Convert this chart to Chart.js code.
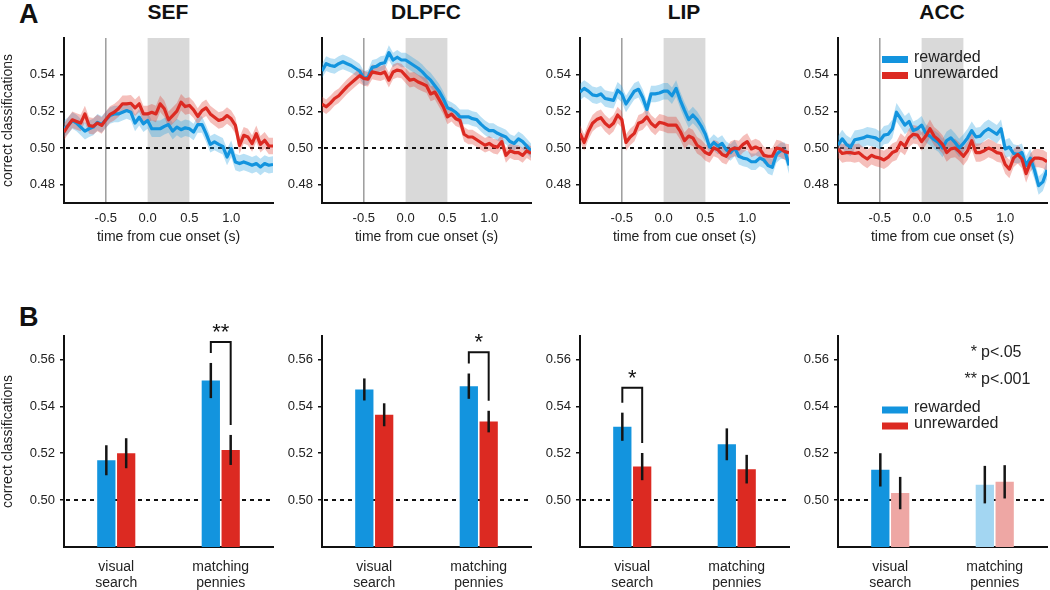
<!DOCTYPE html>
<html>
<head>
<meta charset="utf-8">
<script src="https://cdn.jsdelivr.net/npm/chart.js@4.4.1/dist/chart.umd.min.js"></script>
<style>
body { margin:0; background:#fff; width:1050px; height:590px; overflow:hidden; position:relative;
       font-family:'Liberation Sans', Arial, sans-serif; color:#111; }
canvas { position:absolute; }
.ttl { position:absolute; width:160px; text-align:center; font-weight:bold; font-size:21px; line-height:24px; top:0; }
.lbl { position:absolute; font-weight:bold; font-size:27px; line-height:28px; left:19px; }
</style>
</head>
<body>
<div class="lbl" style="top:0">A</div>
<div class="lbl" style="top:303px">B</div>
<div id="titles"></div>
<canvas id="a0" width="280" height="260" style="left:0;top:0"></canvas>
<canvas id="a1" width="280" height="260" style="left:258px;top:0"></canvas>
<canvas id="a2" width="280" height="260" style="left:516px;top:0"></canvas>
<canvas id="a3" width="280" height="260" style="left:774px;top:0"></canvas>
<canvas id="b0" width="280" height="290" style="left:0;top:300px"></canvas>
<canvas id="b1" width="280" height="290" style="left:258px;top:300px"></canvas>
<canvas id="b2" width="280" height="290" style="left:516px;top:300px"></canvas>
<canvas id="b3" width="280" height="290" style="left:774px;top:300px"></canvas>
<script>
/* DATA */
const regions = ['SEF', 'DLPFC', 'LIP', 'ACC'];
const seriesNames = ['rewarded', 'unrewarded'];

const timeS = [-1.00,-0.95,-0.90,-0.85,-0.80,-0.75,-0.70,-0.65,-0.60,-0.55,-0.50,-0.45,-0.40,-0.35,-0.30,-0.25,-0.20,-0.15,-0.10,-0.05,
               0.00,0.05,0.10,0.15,0.20,0.25,0.30,0.35,0.40,0.45,0.50,0.55,0.60,0.65,0.70,0.75,0.80,0.85,0.90,0.95,
               1.00,1.05,1.10,1.15,1.20,1.25,1.30,1.35,1.40,1.45,1.50];
const timeTicks = [-0.5, 0, 0.5, 1.0];
const timeTickLabels = ['-0.5', '0.0', '0.5', '1.0'];
const cueShade = [0, 0.5];
const cueMarker = -0.5;
const chanceLevel = 0.5;
const ticksA = [0.48, 0.50, 0.52, 0.54];
const ticksB = [0.50, 0.52, 0.54, 0.56];

const sefRew = [0.5105,0.5123,0.515,0.5136,0.5114,0.5092,0.5105,0.5114,0.514,0.5128,0.5154,0.5177,0.5186,0.5186,0.5195,0.5204,0.5195,0.5136,0.5168,0.5132,
                0.515,0.5105,0.5105,0.5105,0.5118,0.5128,0.5092,0.5114,0.51,0.511,0.5105,0.5087,0.5128,0.5128,0.5078,0.502,0.5033,0.502,0.5009,0.4951,
                0.4996,0.4924,0.4915,0.4924,0.4915,0.4906,0.4915,0.4897,0.4915,0.4906,0.491];
const sefUnrew = [0.5087,0.5123,0.5154,0.5145,0.5136,0.5186,0.5123,0.5118,0.5136,0.5123,0.5154,0.5183,0.5195,0.5214,0.5241,0.5241,0.5244,0.5219,0.5241,0.5186,
                  0.5186,0.5195,0.5186,0.5241,0.5214,0.5154,0.5177,0.5201,0.525,0.5226,0.5232,0.5208,0.5172,0.5204,0.5219,0.5186,0.5168,0.515,0.5157,0.5177,
                  0.5159,0.5123,0.5014,0.5069,0.506,0.5024,0.5078,0.502,0.5042,0.5011,0.5011];
const dlpfcRew = [0.542,0.546,0.545,0.5445,0.546,0.547,0.546,0.545,0.5435,0.542,0.538,0.5385,0.544,0.5445,0.546,0.5465,0.552,0.548,0.5495,0.548,
                  0.548,0.5465,0.545,0.5435,0.5415,0.539,0.537,0.534,0.531,0.527,0.522,0.521,0.5195,0.517,0.517,0.517,0.516,0.5155,0.513,0.511,
                  0.5095,0.5095,0.508,0.507,0.506,0.5035,0.5025,0.505,0.5035,0.501,0.4985];
const dlpfcUnrew = [0.524,0.5225,0.5245,0.527,0.5285,0.531,0.5335,0.5355,0.5375,0.5395,0.538,0.5375,0.5415,0.541,0.5405,0.5415,0.537,0.5415,0.5425,0.542,
                    0.5395,0.537,0.5375,0.536,0.535,0.534,0.5295,0.5305,0.5265,0.5225,0.517,0.5185,0.516,0.515,0.5075,0.506,0.506,0.5045,0.503,0.5015,
                    0.5025,0.501,0.5005,0.5035,0.496,0.4985,0.4975,0.4975,0.496,0.4985,0.497];
const lipRew = [0.5305,0.5325,0.531,0.529,0.5285,0.5295,0.527,0.5265,0.526,0.5315,0.5295,0.524,0.5275,0.531,0.532,0.5275,0.521,0.5295,0.5295,0.53,
                0.531,0.531,0.5285,0.5325,0.526,0.5205,0.5155,0.518,0.5155,0.512,0.5075,0.5005,0.503,0.501,0.5025,0.499,0.4975,0.5,0.4955,0.4945,
                0.494,0.4925,0.4925,0.4945,0.4935,0.4905,0.4895,0.4965,0.4985,0.4985,0.4905];
const lipUnrew = [0.508,0.503,0.509,0.5135,0.5155,0.5165,0.5135,0.5115,0.5135,0.518,0.5155,0.503,0.506,0.508,0.5135,0.5145,0.517,0.5135,0.5115,0.514,
                  0.5135,0.5125,0.5125,0.5125,0.509,0.504,0.5065,0.5055,0.5015,0.5,0.4975,0.4965,0.5,0.499,0.4965,0.4955,0.499,0.5,0.4995,0.502,
                  0.5035,0.4995,0.5005,0.4995,0.496,0.4955,0.4955,0.5,0.4995,0.498,0.4975];
const accRew = [0.5015,0.505,0.502,0.5005,0.5045,0.505,0.5055,0.5065,0.506,0.5055,0.504,0.507,0.5075,0.5105,0.5195,0.516,0.5125,0.5145,0.5095,0.5105,
                0.5125,0.508,0.5065,0.5045,0.503,0.5,0.504,0.5055,0.503,0.5,0.5025,0.5055,0.5095,0.506,0.5065,0.509,0.5105,0.509,0.5075,0.5105,
                0.4995,0.5005,0.497,0.4965,0.4975,0.4905,0.4945,0.488,0.4795,0.4815,0.488];
const accUnrew = [0.4995,0.497,0.4975,0.4975,0.497,0.4975,0.4955,0.494,0.496,0.495,0.4945,0.4935,0.495,0.4975,0.4985,0.503,0.501,0.5055,0.5075,0.507,
                  0.5035,0.5065,0.5105,0.5065,0.5045,0.502,0.4975,0.4995,0.5,0.498,0.4955,0.4985,0.504,0.4975,0.4975,0.4985,0.5,0.499,0.4975,0.497,
                  0.491,0.4885,0.4945,0.4965,0.494,0.486,0.492,0.4945,0.4945,0.494,0.4925];
const lineRew = [sefRew, dlpfcRew, lipRew, accRew];
const lineUnrew = [sefUnrew, dlpfcUnrew, lipUnrew, accUnrew];
const bandSem = [0.0045, 0.004, 0.0045, 0.005];

const taskLabels = [['visual', 'search'], ['matching', 'pennies']];
const barRew   = [[0.517, 0.551], [0.5472, 0.5486], [0.5313, 0.5238], [0.5129, 0.5066]];
const barUnrew = [[0.520, 0.5214], [0.5364, 0.5335], [0.5143, 0.5132], [0.503, 0.5078]];
const errRew   = [[0.0064, 0.0075], [0.0047, 0.0054], [0.006, 0.0068], [0.0071, 0.008]];
const errUnrew = [[0.0064, 0.0064], [0.0049, 0.0046], [0.0058, 0.0061], [0.0069, 0.0071]];
const sigTask  = [1, 1, 0, -1];
const sigStars = ['**', '*', '*', ''];
const sigTop   = [0.5674, 0.5631, 0.5479, null];
const pNotes   = [['*', 'p<.05'], ['**', 'p<.001']];

/* STYLE */
const FONT = "'Liberation Sans', Arial, sans-serif";
const BLUE = '#1394de', RED = '#dc2a22';
const BLUE_LT = '#a3d6f2', RED_LT = '#eea7a4';
const BLUE_BAND = 'rgba(40,160,225,0.33)', RED_BAND = 'rgba(225,60,50,0.33)';
Chart.defaults.font.family = FONT;
Chart.defaults.color = '#222';
Chart.defaults.animation = false;
Chart.defaults.plugins.legend.display = false;
Chart.defaults.plugins.tooltip.enabled = false;

/* titles */
const titles = document.getElementById('titles');
regions.forEach((r, i) => {
    const d = document.createElement('div');
    d.className = 'ttl';
    d.style.left = (i * 258 + 64 + 104 - 80) + 'px';
    d.textContent = r;
    titles.appendChild(d);
});

function chanceLine(ctx, a, y) {
    const yy = Math.round(y.getPixelForValue(chanceLevel));
    ctx.save();
    ctx.strokeStyle = '#111'; ctx.lineWidth = 2; ctx.setLineDash([4, 4]);
    ctx.beginPath(); ctx.moveTo(a.left + 2, yy); ctx.lineTo(a.right, yy); ctx.stroke();
    ctx.restore();
}

function drawKey(ctx, x, y, colors) {
    ctx.save();
    ctx.font = '16px ' + FONT;
    ctx.textBaseline = 'middle';
    seriesNames.forEach((s, k) => {
        const cy = y + k * 16;
        ctx.fillStyle = colors[k];
        ctx.fillRect(x, cy - 3, 26, 7);
        ctx.fillStyle = '#222';
        ctx.fillText(s, x + 32, cy - 1.5);
    });
    ctx.restore();
}

const cuePlugin = {
    id: 'cue',
    beforeDatasetsDraw(chart) {
        const {ctx, chartArea: a, scales: {x, y}} = chart;
        const x0 = x.getPixelForValue(cueShade[0]), x1 = x.getPixelForValue(cueShade[1]);
        ctx.save();
        ctx.fillStyle = '#d9d9d9';
        ctx.fillRect(x0, a.top, x1 - x0, a.bottom - a.top - 1);
        const xm = x.getPixelForValue(cueMarker);
        ctx.strokeStyle = '#9c9c9c'; ctx.lineWidth = 1.5;
        ctx.beginPath(); ctx.moveTo(xm, a.top); ctx.lineTo(xm, a.bottom - 1); ctx.stroke();
        ctx.restore();
        chanceLine(ctx, a, y);
    },
    afterDatasetsDraw(chart) {
        if (chart.options.plugins.cue.key) drawKey(chart.ctx, chart.chartArea.left + 44, 59, [BLUE, RED]);
    }
};

/* PANEL A: time courses */
regions.forEach((r, i) => {
    const sem = bandSem[i];
    const base = {pointRadius: 0, borderWidth: 0, tension: 0};
    new Chart(document.getElementById('a' + i), {
        type: 'line',
        data: {
            labels: timeS,
            datasets: [
                {...base, data: lineRew[i].map(v => v - sem), fill: false, order: 6},
                {...base, data: lineRew[i].map(v => v + sem), fill: '-1', backgroundColor: BLUE_BAND, order: 5},
                {...base, data: lineUnrew[i].map(v => v - sem), fill: false, order: 4},
                {...base, data: lineUnrew[i].map(v => v + sem), fill: '-1', backgroundColor: RED_BAND, order: 3},
                {...base, label: seriesNames[0], data: lineRew[i], borderColor: BLUE, borderWidth: 3.2, borderJoinStyle: 'round', fill: false, order: 2},
                {...base, label: seriesNames[1], data: lineUnrew[i], borderColor: RED, borderWidth: 3.2, borderJoinStyle: 'round', fill: false, order: 1}
            ]
        },
        options: {
            responsive: false,
            layout: {padding: {top: 38, right: 7, left: 0, bottom: 0}},
            plugins: {cue: {key: i === 3}},
            scales: {
                x: {
                    type: 'linear', min: -1, max: 1.5,
                    afterFit: s => { s.height = 57; },
                    afterBuildTicks: s => { s.ticks = timeTicks.map(v => ({value: v})); },
                    ticks: {callback: (v, k) => timeTickLabels[k], font: {size: 13}, padding: 8, maxRotation: 0, autoSkip: false},
                    grid: {display: false, drawTicks: false},
                    border: {display: true, color: '#111', width: 2},
                    title: {display: true, text: 'time from cue onset (s)', font: {size: 14}, padding: {top: 0, bottom: 14}}
                },
                y: {
                    min: 0.47, max: 0.56,
                    afterFit: s => { s.width = 64; },
                    afterBuildTicks: s => { s.ticks = ticksA.map(v => ({value: v})); },
                    ticks: {callback: (v, k) => ticksA[k].toFixed(2), font: {size: 13}, padding: 5},
                    grid: {drawOnChartArea: false, drawTicks: true, tickLength: 4, color: '#111', lineWidth: 1.5},
                    border: {color: '#111', width: 2},
                    title: {display: i === 0, text: 'correct classifications', font: {size: 14}, padding: {top: 0, bottom: 0}}
                }
            }
        },
        plugins: [cuePlugin]
    });
});

/* PANEL B: bars */
const barPlugin = {
    id: 'bars',
    beforeDatasetsDraw(chart) {
        chanceLine(chart.ctx, chart.chartArea, chart.scales.y);
    },
    afterDatasetsDraw(chart) {
        const {ctx, chartArea: a, scales: {y}} = chart;
        const i = chart.options.plugins.bars.panel;
        const vals = [barRew[i], barUnrew[i]], errs = [errRew[i], errUnrew[i]];
        ctx.save();
        ctx.strokeStyle = '#151515';
        ctx.lineWidth = 2.5;
        vals.forEach((v, d) => {
            chart.getDatasetMeta(d).data.forEach((el, k) => {
                ctx.beginPath();
                ctx.moveTo(el.x, y.getPixelForValue(v[k] + errs[d][k]));
                ctx.lineTo(el.x, y.getPixelForValue(v[k] - errs[d][k]));
                ctx.stroke();
            });
        });
        const g = sigTask[i];
        if (g >= 0) {
            const xl = chart.getDatasetMeta(0).data[g].x, xr = chart.getDatasetMeta(1).data[g].x;
            const yt = y.getPixelForValue(sigTop[i]);
            const yl = y.getPixelForValue(vals[0][g] + errs[0][g]) - 10;
            const yr = y.getPixelForValue(vals[1][g] + errs[1][g]) - 10;
            ctx.lineWidth = 2;
            ctx.strokeStyle = '#111';
            ctx.beginPath();
            ctx.moveTo(xl, yl); ctx.lineTo(xl, yt); ctx.lineTo(xr, yt); ctx.lineTo(xr, yr);
            ctx.stroke();
            ctx.fillStyle = '#111';
            ctx.font = '22px ' + FONT;
            ctx.textAlign = 'center';
            ctx.textBaseline = 'alphabetic';
            ctx.fillText(sigStars[i], (xl + xr) / 2, yt - 3);
        }
        if (i === 3) {
            drawKey(ctx, a.left + 44, 109.5, [BLUE, RED]);
            ctx.font = '16px ' + FONT;
            ctx.fillStyle = '#222';
            ctx.textBaseline = 'middle';
            pNotes.forEach((p, k) => {
                const yy = 53 + k * 27;
                ctx.textAlign = 'right';
                ctx.fillText(p[0], a.left + 139, yy);
                ctx.textAlign = 'left';
                ctx.fillText(p[1], a.left + 143, yy);
            });
        }
        ctx.restore();
    }
};

regions.forEach((r, i) => {
    const rewCols = i === 3 ? [BLUE, BLUE_LT] : [BLUE, BLUE];
    const unrewCols = i === 3 ? [RED_LT, RED_LT] : [RED, RED];
    new Chart(document.getElementById('b' + i), {
        type: 'bar',
        data: {
            labels: taskLabels,
            datasets: [
                {label: seriesNames[0], data: barRew[i], backgroundColor: rewCols, barPercentage: 0.92, categoryPercentage: 0.38},
                {label: seriesNames[1], data: barUnrew[i], backgroundColor: unrewCols, barPercentage: 0.92, categoryPercentage: 0.38}
            ]
        },
        options: {
            responsive: false,
            layout: {padding: {top: 36, right: 7, left: 0, bottom: 0}},
            plugins: {bars: {panel: i}},
            scales: {
                x: {
                    afterFit: s => { s.height = 43; },
                    ticks: {font: {size: 14, lineHeight: 1.15}, padding: 12, maxRotation: 0, autoSkip: false},
                    grid: {display: false, drawTicks: false},
                    border: {display: true, color: '#111', width: 2}
                },
                y: {
                    min: 0.48, max: 0.57,
                    afterFit: s => { s.width = 64; },
                    afterBuildTicks: s => { s.ticks = ticksB.map(v => ({value: v})); },
                    ticks: {callback: (v, k) => ticksB[k].toFixed(2), font: {size: 13}, padding: 5},
                    grid: {drawOnChartArea: false, drawTicks: true, tickLength: 4, color: '#111', lineWidth: 1.5},
                    border: {color: '#111', width: 2},
                    title: {display: i === 0, text: 'correct classifications', font: {size: 14}, padding: {top: 0, bottom: 0}}
                }
            }
        },
        plugins: [barPlugin]
    });
});
</script>
</body>
</html>
